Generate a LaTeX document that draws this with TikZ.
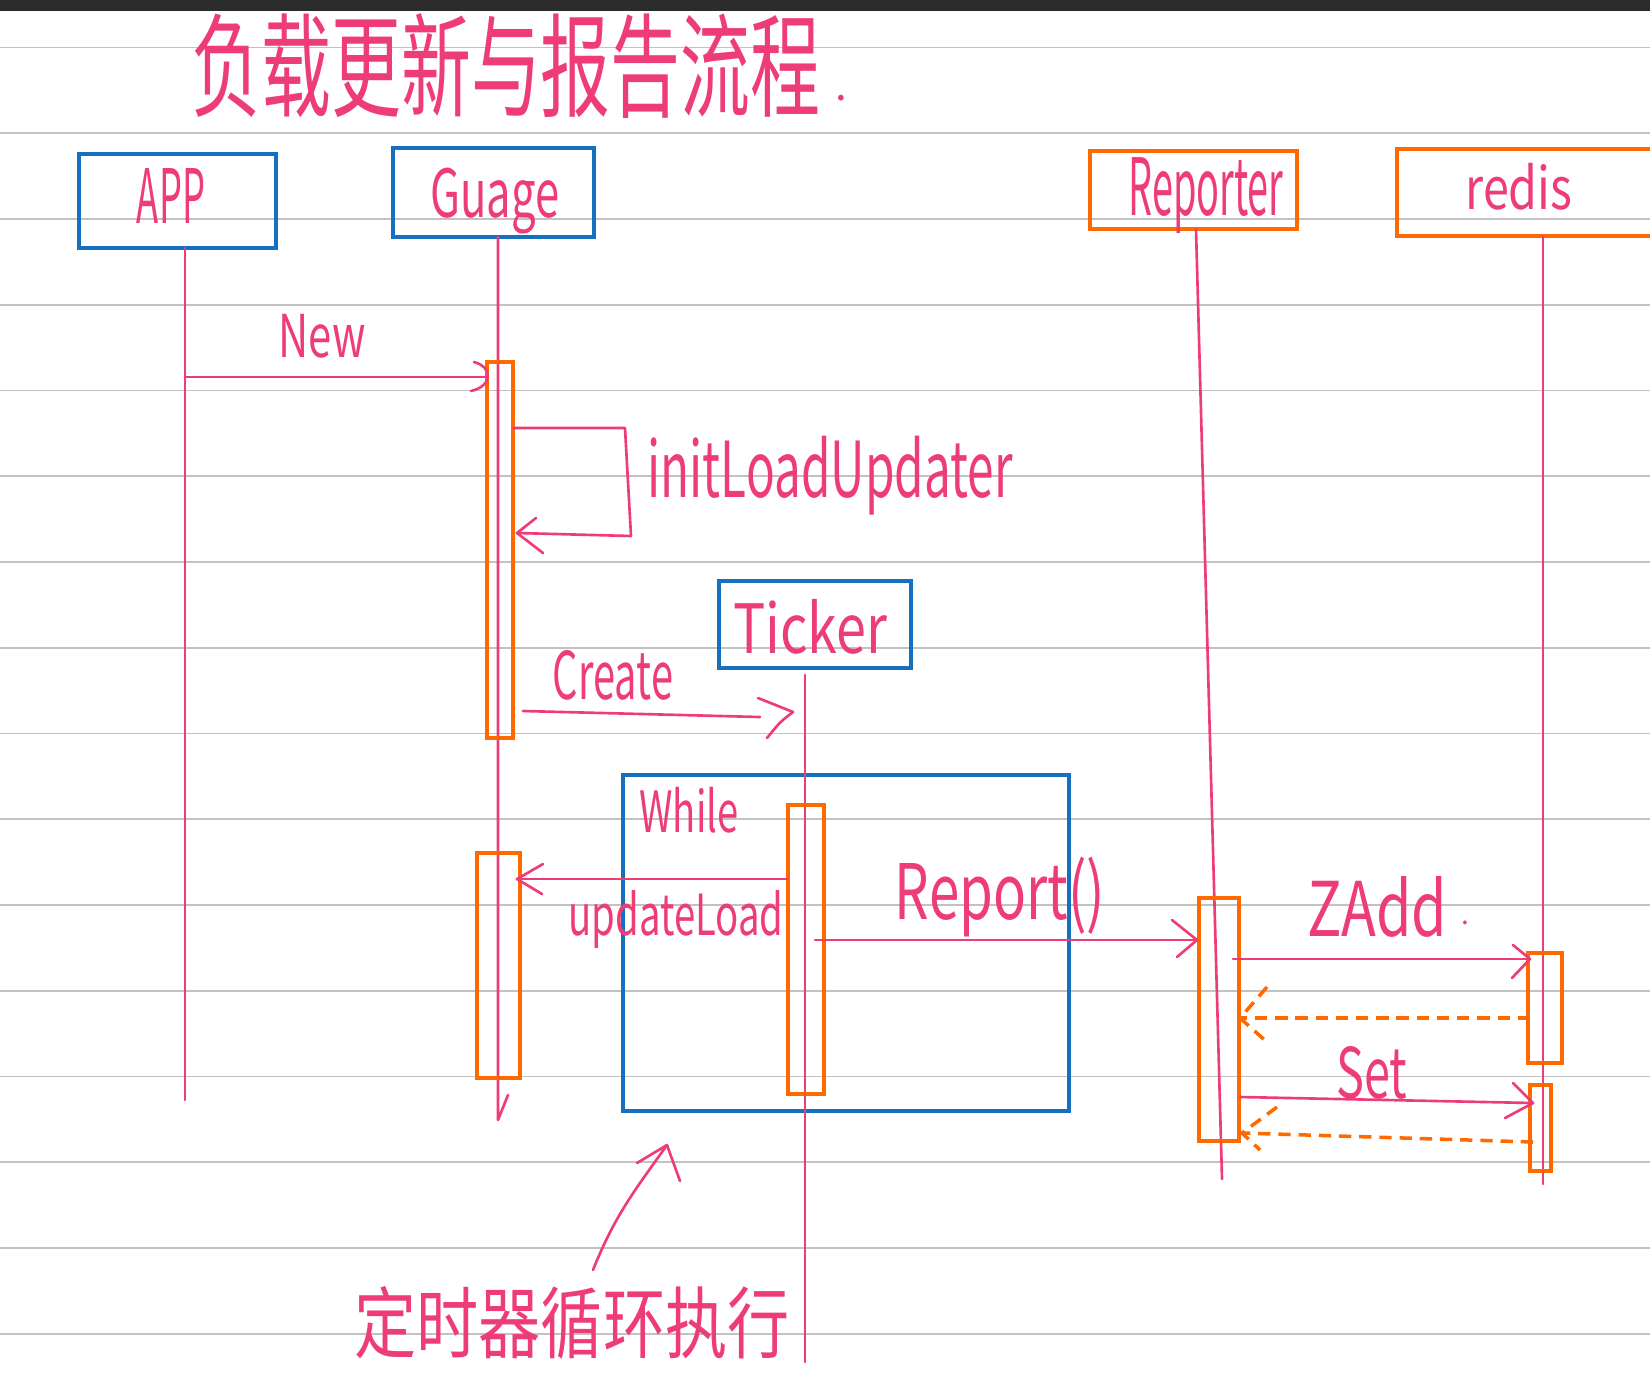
\documentclass[tikz,border=0pt]{standalone}
\usepackage{fontspec}
\setmainfont{Noto Sans CJK SC}
\usepackage{graphicx}
\newlength\pxu
\setlength\pxu{0.02cm}
\definecolor{hpink}{HTML}{EE3D76}
\definecolor{horange}{HTML}{FF6A00}
\definecolor{hblue}{HTML}{1570BF}
\definecolor{hgray}{HTML}{C2C2C2}
\definecolor{hdark}{HTML}{2C2C2C}
\newcommand\hw[3]{\resizebox*{#1\pxu}{#2\pxu}{#3}}
\begin{document}
\begin{tikzpicture}[x=0.02cm,y=-0.02cm,
  pinkline/.style={draw=hpink, line width=1.5pt, line cap=round, line join=round},
  retline/.style={draw=horange, line width=2pt, dash pattern=on 7pt off 4.5pt},
  bluebox/.style={draw=hblue, line width=1.9pt, inner sep=0pt},
  orbox/.style={draw=horange, line width=2pt, inner sep=0pt},
  lbl/.style={inner sep=0pt, text=hpink},
  ruleline/.style={draw=hgray, line width=1.1pt}]
\useasboundingbox (0,0) rectangle (1650,1394);
\clip (0,0) rectangle (1650,1394);
\fill[white] (0,0) rectangle (1650,1394);
\fill[hdark] (0,0) rectangle (1650,11);
\foreach \k in {0,...,15} {\draw[ruleline] (0,47.5+85.75*\k) -- (1650,47.5+85.75*\k);}

% title
\node[lbl] (title) at (506,66) {\hw{629}{105}{负载更新与报告流程}};
\node[lbl, font=\fontsize{24}{24}\selectfont] (titledot) at (841,98) {.};

% participant boxes
\node[bluebox, minimum width=197\pxu, minimum height=94\pxu] (app) at (177.5,201) {};
\node[bluebox, minimum width=201\pxu, minimum height=89\pxu] (guage) at (493.5,192.5) {};
\node[orbox, minimum width=207\pxu, minimum height=78\pxu] (reporter) at (1193.5,190) {};
\node[orbox, minimum width=268\pxu, minimum height=87\pxu] (redis) at (1531,192.5) {};
\node[bluebox, minimum width=192\pxu, minimum height=87\pxu] (ticker) at (815,624.5) {};
\node[bluebox, minimum width=446\pxu, minimum height=336\pxu] (loop) at (846,943) {};

\node[lbl] (appT) at (171,196) {\hw{68}{55}{APP}};
\node[lbl] (guageT) at (495,201) {\hw{129}{66}{Guage}};
\node[lbl] (reporterT) at (1206,196) {\hw{155}{76}{Reporter}};
\node[lbl] (redisT) at (1519,187) {\hw{107}{47}{redis}};
\node[lbl] (tickerT) at (810,627) {\hw{154}{55}{Ticker}};
\node[lbl] (whileT) at (689,810) {\hw{99}{46}{While}};

% lifelines
\coordinate (appL1) at (185,248);  \coordinate (appL2) at (185,1100);
\coordinate (gL1) at (498,237);    \coordinate (gL2) at (498,1120); \coordinate (gL3) at (508,1095);
\coordinate (tL1) at (805,675);    \coordinate (tL2) at (805,1362);
\coordinate (rL1) at (1196,229);   \coordinate (rL2) at (1222,1179);
\coordinate (dL1) at (1543,236);   \coordinate (dL2) at (1543,1184);
\draw[pinkline] (appL1) -- (appL2);
\draw[pinkline] (gL1) -- (gL2) -- (gL3);
\draw[pinkline] (tL1) -- (tL2);
\draw[pinkline] (rL1) -- (rL2);
\draw[pinkline] (dL1) -- (dL2);

% activation bars
\node[orbox, minimum width=26\pxu, minimum height=376\pxu] (g1) at (500,550) {};
\node[orbox, minimum width=43\pxu, minimum height=225\pxu] (g2) at (498.5,965.5) {};
\node[orbox, minimum width=36\pxu, minimum height=289\pxu] (t1) at (806,949.5) {};
\node[orbox, minimum width=40\pxu, minimum height=243\pxu] (r1) at (1219,1019.5) {};
\node[orbox, minimum width=34\pxu, minimum height=110\pxu] (d1) at (1545,1008) {};
\node[orbox, minimum width=21\pxu, minimum height=86\pxu] (d2) at (1540.5,1128) {};

% New
\coordinate (newS) at (185,377); \coordinate (newE) at (486,377);
\draw[pinkline] (newS) -- (newE);
\draw[pinkline] (474,362) .. controls (493,367) and (493,386) .. (471,391);
\node[lbl] (newT) at (322,336) {\hw{87}{44}{New}};

% initLoadUpdater (self call)
\coordinate (iS) at (513,428); \coordinate (iA) at (625,428); \coordinate (iB) at (631,536); \coordinate (iE) at (517,533);
\draw[pinkline] (iS) -- (iA) -- (iB) -- (iE);
\draw[pinkline] (536,518) -- (iE) -- (543,553);
\node[lbl] (initT) at (830,476) {\hw{365}{79}{initLoadUpdater}};

% Create
\coordinate (cS) at (523,711); \coordinate (cE) at (760,717); \coordinate (cTip) at (793,712);
\draw[pinkline] (cS) -- (cE);
\draw[pinkline] (758,698) -- (cTip) .. controls (780,722) .. (767,738);
\node[lbl] (createT) at (613,675) {\hw{120}{50}{Create}};

% updateLoad
\coordinate (uS) at (788,879); \coordinate (uE) at (517,879);
\draw[pinkline] (uS) -- (uE);
\draw[pinkline] (543,864) -- (uE) -- (542,894);
\node[lbl] (updT) at (676,919) {\hw{215}{58}{updateLoad}};

% Report()
\coordinate (rpS) at (815,940); \coordinate (rpE) at (1197,940);
\draw[pinkline] (rpS) -- (rpE);
\draw[pinkline] (1172,920) -- (rpE) -- (1177,957);
\node[lbl] (reportT) at (1000,897) {\hw{210}{80}{Report()}};

% ZAdd
\coordinate (zS) at (1233,959); \coordinate (zE) at (1530,959);
\draw[pinkline] (zS) -- (zE);
\draw[pinkline] (1513,945) -- (zE) -- (1512,978);
\node[lbl] (zaddT) at (1377,907) {\hw{140}{61}{ZAdd}};
\node[lbl, font=\fontsize{16}{16}\selectfont] (zdot) at (1465,923) {.};

% return 1
\coordinate (z2S) at (1530,1018); \coordinate (z2E) at (1240,1018);
\draw[retline] (z2S) -- (z2E);
\draw[retline] (1267,987) -- (z2E) -- (1268,1043);

% Set
\coordinate (sS) at (1240,1097); \coordinate (sE) at (1533,1103);
\draw[pinkline] (sS) -- (sE);
\draw[pinkline] (1513,1083) -- (sE) -- (1505,1118);
\node[lbl] (setT) at (1372,1073) {\hw{71}{53}{Set}};

% return 2
\coordinate (s2S) at (1533,1142); \coordinate (s2E) at (1242,1133);
\draw[retline] (s2S) -- (s2E);
\draw[retline] (1277,1107) -- (s2E) -- (1260,1150);

% annotation
\node[lbl] (note) at (572,1323) {\hw{435}{73}{定时器循环执行}};
\coordinate (aS) at (593,1270); \coordinate (aE) at (667,1145);
\draw[pinkline] (aS) .. controls (615,1215) and (635,1190) .. (aE);
\draw[pinkline] (637,1163) -- (aE) -- (680,1181);
\end{tikzpicture}
\end{document}
